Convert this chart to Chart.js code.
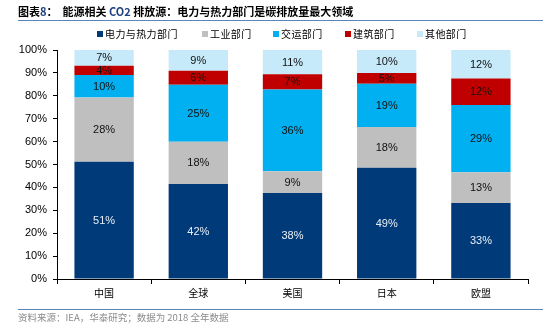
<!DOCTYPE html>
<html>
<head>
<meta charset="utf-8">
<script src="https://cdn.jsdelivr.net/npm/chart.js@4"></script>
<style>
  html, body { margin: 0; padding: 0; background: #fff; }
  #wrap { position: relative; width: 553px; height: 328px; overflow: hidden; }
  #c { position: absolute; left: 0; top: 0; }
  #title { position: absolute; left: 18px; top: 3px; font: bold 11px "Noto Sans CJK SC", sans-serif; color: #000; white-space: nowrap; line-height: 16px; }
  #title .t2 { margin-left: 5px; }
  #title .lat { color: #1E3F7F; }
  .rule { position: absolute; left: 18px; width: 525px; height: 0; border-top: 1.5px solid #5C84BD; }
  #src { position: absolute; left: 18px; top: 310px; font: 9.5px "Noto Sans CJK SC", sans-serif; color: #8C8C8C; white-space: nowrap; line-height: 14px; }
  .lg { position: absolute; top: 27px; height: 14px; white-space: nowrap; font: 10px "Noto Sans CJK SC", sans-serif; letter-spacing: 0.4px; color: #000; line-height: 14px; }
  .lg i { position: absolute; left: 0; top: 4px; width: 6px; height: 6px; }
  .lg span { position: absolute; left: 8px; top: 0; }
</style>
</head>
<body>
<div id="wrap">
  <canvas id="c" width="553" height="328"></canvas>
  <div id="title"><span>图表<span class="lat">8</span>：</span><span class="t2">能源相关 <span class="lat">CO2</span> 排放源：电力与热力部门是碳排放量最大领域</span></div>
  <div class="rule" style="top:19.5px"></div>
  <div class="rule" style="top:309px"></div>
  <div id="legend"></div>
  <div id="src">资料来源：IEA，华泰研究；数据为 2018 全年数据</div>
</div>
<script>
// ---- data ----
const categories = ['中国', '全球', '美国', '日本', '欧盟'];
const seriesNames = ['电力与热力部门', '工业部门', '交运部门', '建筑部门', '其他部门'];
const power     = [51.2, 41.5, 37.6, 48.6, 33.2];
const industry  = [28.1, 18.4,  9.4, 17.8, 13.4];
const transport = [ 9.8, 24.9, 35.8, 18.9, 29.4];
const building  = [ 4.0,  6.1,  6.6,  4.7, 11.6];
const other     = [ 6.9,  9.1, 10.6, 10.0, 12.4];
const yTicks = [0, 10, 20, 30, 40, 50, 60, 70, 80, 90, 100];

const colors = ['#003A78', '#BFBFBF', '#00B0F0', '#C00000', '#C6EAF9'];
const labelColors = ['#E8EEF6', '#111111', '#111111', '#111111', '#111111'];
const seriesData = [power, industry, transport, building, other];
const legendX = [97, 202, 273, 345, 417];

// HTML legend (real text)
const lgWrap = document.getElementById('legend');
seriesNames.forEach((name, i) => {
  const d = document.createElement('div');
  d.className = 'lg';
  d.style.left = legendX[i] + 'px';
  const box = document.createElement('i');
  box.style.background = colors[i];
  const t = document.createElement('span');
  t.textContent = name;
  d.appendChild(box); d.appendChild(t);
  lgWrap.appendChild(d);
});

const valueLabels = {
  id: 'valueLabels',
  afterDatasetsDraw(chart) {
    const ctx = chart.ctx;
    chart.data.datasets.forEach((ds, i) => {
      const meta = chart.getDatasetMeta(i);
      meta.data.forEach((bar, j) => {
        const v = ds.data[j];
        const y = (bar.y + bar.base) / 2;
        ctx.save();
        ctx.font = '11px "Liberation Sans", Arial, sans-serif';
        ctx.fillStyle = labelColors[i];
        ctx.textAlign = 'center';
        ctx.textBaseline = 'middle';
        ctx.fillText(Math.round(v) + '%', bar.x, y + 0.5);
        ctx.restore();
      });
    });
  }
};

new Chart(document.getElementById('c'), {
  type: 'bar',
  data: {
    labels: categories,
    datasets: seriesData.map((d, i) => ({
      label: seriesNames[i],
      data: d,
      backgroundColor: colors[i],
      borderWidth: 0,
      categoryPercentage: 1,
      barPercentage: 0.63
    }))
  },
  options: {
    responsive: false,
    animation: false,
    devicePixelRatio: 1,
    layout: { padding: { left: 0, right: 25, top: 50, bottom: 0 } },
    plugins: {
      legend: { display: false },
      tooltip: { enabled: false }
    },
    scales: {
      x: {
        stacked: true,
        grid: { display: true, drawOnChartArea: false, drawTicks: true, tickLength: 5, color: '#000', offset: true },
        border: { display: true, color: '#000', width: 1 },
        ticks: { color: '#000', padding: 3, font: { family: '"Noto Sans CJK SC", sans-serif', size: 10 } },
        afterFit(s) { s.height = 49; }
      },
      y: {
        stacked: true,
        min: 0, max: 100,
        afterBuildTicks(s) { s.ticks = yTicks.map(v => ({ value: v })); },
        grid: { display: true, drawOnChartArea: false, drawTicks: true, tickLength: 4, color: '#000' },
        border: { display: true, color: '#000', width: 1 },
        ticks: {
          color: '#000', padding: 6,
          font: { family: '"Liberation Sans", Arial, sans-serif', size: 11 },
          callback: v => v + '%'
        },
        afterFit(s) { s.width = 57; }
      }
    }
  },
  plugins: [valueLabels]
});
</script>
</body>
</html>
